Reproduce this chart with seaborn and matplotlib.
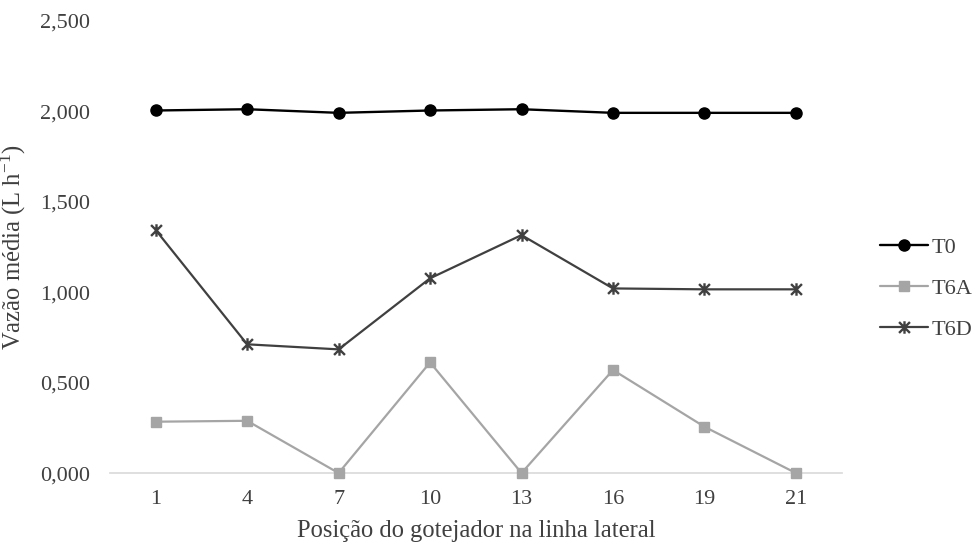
import matplotlib
matplotlib.use("Agg")
import matplotlib.pyplot as plt
import seaborn as sns
from matplotlib.path import Path
from matplotlib.ticker import FuncFormatter

# Data
positions = ["1", "4", "7", "10", "13", "16", "19", "21"]
t0 = [2.005, 2.012, 1.992, 2.005, 2.012, 1.992, 1.992, 1.992]
t6a = [0.284, 0.289, 0.0, 0.612, 0.0, 0.570, 0.256, 0.0]
t6d = [1.344, 0.712, 0.684, 1.077, 1.316, 1.021, 1.016, 1.016]
series_names = ["T0", "T6A", "T6D"]
series_values = [t0, t6a, t6d]
y_ticks = [0.0, 0.5, 1.0, 1.5, 2.0, 2.5]

# Excel-like "star" marker: X plus a vertical bar
star = Path(
    [(-1, -1), (1, 1), (-1, 1), (1, -1), (0, -1.15), (0, 1.15)],
    [Path.MOVETO, Path.LINETO, Path.MOVETO, Path.LINETO, Path.MOVETO, Path.LINETO],
)

styles = {
    "T0": dict(color="#000000", marker="o", markersize=8, mec="#000000", mew=1.0, lw=1.7),
    "T6A": dict(color="#A5A5A5", marker="s", markersize=7.5, mec="#A5A5A5", mew=1.0, lw=1.6),
    "T6D": dict(color="#404040", marker=star, markersize=9, mec="#404040", mew=1.7, lw=1.6),
}

sns.set_theme(style="white")
plt.rcParams["font.family"] = ["Liberation Serif", "DejaVu Serif"]
plt.rcParams["mathtext.fontset"] = "custom"
plt.rcParams["mathtext.rm"] = "Liberation Serif"
plt.rcParams["mathtext.it"] = "Liberation Serif:italic"

text_color = "#404040"

fig = plt.figure(figsize=(9.73, 5.45), dpi=100)
ax = fig.add_axes([0.113, 0.132, 0.752, 0.8295])

for name, vals in zip(series_names, series_values):
    st = styles[name]
    sns.lineplot(
        x=positions, y=vals, sort=False, ax=ax, label=name,
        color=st["color"], marker=st["marker"], markersize=st["markersize"],
        markeredgecolor=st["mec"], markeredgewidth=st["mew"], linewidth=st["lw"],
        clip_on=False, zorder=3,
    )

ax.set_xlim(-0.5, len(positions) - 0.5)
ax.set_ylim(0, 2.5)
ax.set_yticks(y_ticks)
ax.yaxis.set_major_formatter(FuncFormatter(lambda v, p: f"{v:.3f}".replace(".", ",")))

for side in ["top", "right", "left"]:
    ax.spines[side].set_visible(False)
ax.spines["bottom"].set_color("#D9D9D9")
ax.spines["bottom"].set_linewidth(1.2)

ax.tick_params(axis="both", length=0, labelsize=16, colors=text_color)
ax.tick_params(axis="y", pad=14.5)
ax.tick_params(axis="x", pad=12.5)

ax.set_xlabel("Posição do gotejador na linha lateral", fontsize=17.7, color=text_color)
ax.set_ylabel("Vazão média (L h$^{\\mathrm{-1}}$)", fontsize=17.7, color=text_color)
ax.xaxis.set_label_coords(0.5, -0.104)
ax.yaxis.set_label_coords(-0.112, 0.5)

handles, labels = ax.get_legend_handles_labels()
ax.get_legend().remove()
fig.legend(
    handles, labels, loc="center left", bbox_to_anchor=(0.904, 0.471),
    frameon=False, fontsize=16, labelcolor=text_color,
    handlelength=2.2, handletextpad=0.15, labelspacing=0.92,
    borderpad=0, borderaxespad=0,
)

fig.savefig("out.png", dpi=100)
plt.close(fig)
